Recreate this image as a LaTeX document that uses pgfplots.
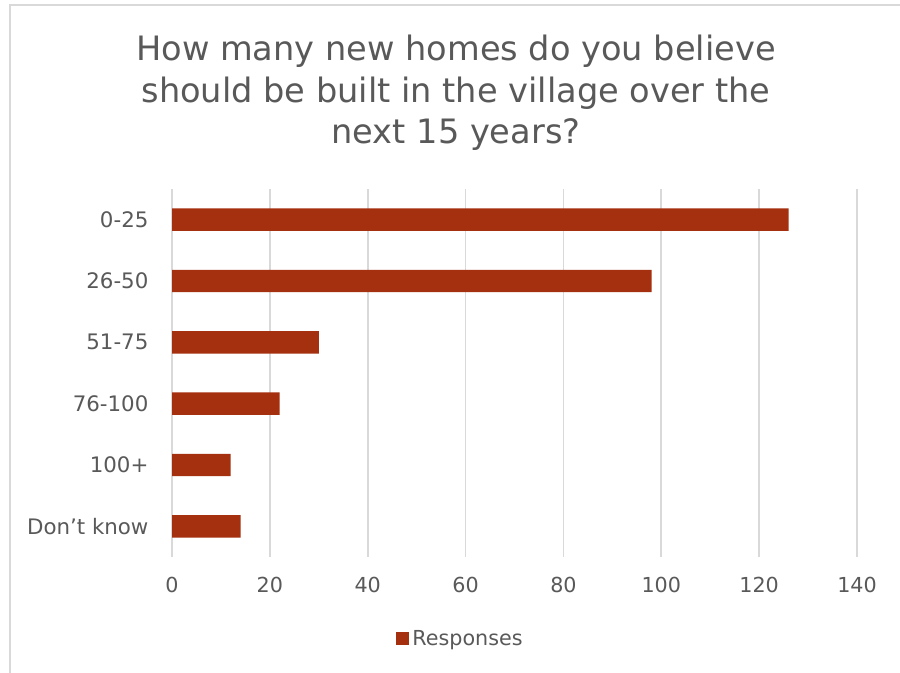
\documentclass[border=0pt]{standalone}
\usepackage{pgfplots}
\pgfplotsset{compat=1.18}
\usepackage{fontspec}
\setmainfont{DejaVu Sans}
\definecolor{txt}{HTML}{595959}
\definecolor{gridc}{HTML}{D9D9D9}
\definecolor{barc}{HTML}{A5300F}
\begin{document}
\begin{tikzpicture}
\useasboundingbox (0,0) rectangle (675pt,504pt);
\fill[white] (0,0) rectangle (675pt,504pt);
\draw[gridc, line width=1.5pt] ({10*0.75pt},-2pt) -- ({10*0.75pt},{(672-5)*0.75pt}) -- (680pt,{(672-5)*0.75pt});
\node[anchor=north, inner sep=0pt, align=center, text=txt, font=\fontsize{25.2pt}{31.2pt}\selectfont]
  at ({456*0.75pt},{(672-35)*0.75pt})
  {How many new homes do you believe\\should be built in the village over the\\next 15 years?};
\begin{axis}[
  at={(129pt,86.25pt)}, anchor=south west,
  scale only axis,
  width=513.75pt, height=276pt,
  xbar,
  bar width=16.8pt,
  xmin=0, xmax=140,
  ymin=-0.5, ymax=5.5,
  xtick={0,20,...,140},
  ytick={0,1,2,3,4,5},
  yticklabels={Don’t know,100+,76-100,51-75,26-50,0-25},
  xmajorgrids,
  grid style={gridc, line width=1.3pt},
  axis line style={draw=none},
  major tick length=0pt,
  tick style={draw=none},
  /pgf/number format/assume math mode=true,
  xticklabel style={font=\fontsize{15.5pt}{18pt}\selectfont, text=txt, anchor=north, inner sep=0pt, yshift=-15pt},
  yticklabel style={font=\fontsize{16pt}{19pt}\selectfont, text=txt, anchor=east, inner sep=0pt, xshift=-17.5pt},
  legend style={at={(0.4219,-0.2228)}, anchor=center, draw=none, fill=none,
    font=\fontsize{15.5pt}{18pt}\selectfont, text=txt, inner sep=0pt,
    nodes={inner xsep=2.5pt, inner ysep=1.5pt}},
  legend cell align=left,
  legend image code/.code={\fill[barc] (0pt,-4.875pt) rectangle (9.75pt,4.875pt);},
]
\addplot[fill=barc, draw=none] coordinates {(14,0) (12,1) (22,2) (30,3) (98,4) (126,5)};
\addlegendentry{Responses}
\end{axis}
\end{tikzpicture}
\end{document}
